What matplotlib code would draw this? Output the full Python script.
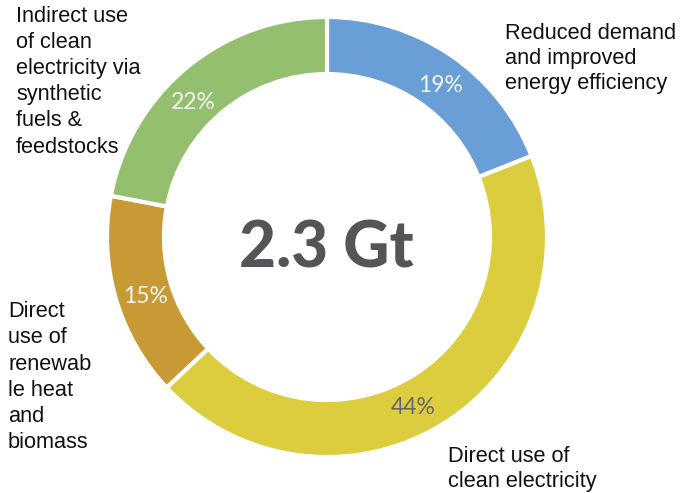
import matplotlib
matplotlib.use("Agg")
import matplotlib.pyplot as plt
import numpy as np

# Shares of the 2.3 Gt abatement, clockwise from 12 o'clock
categories = [
    "Reduced demand\nand improved\nenergy efficiency",
    "Direct use of\nclean electricity",
    "Direct\nuse of\nrenewab\nle heat\nand\nbiomass",
    "Indirect use\nof clean\nelectricity via\nsynthetic\nfuels &\nfeedstocks",
]
shares = [19, 44, 15, 22]
colors = ["#6a9ed6", "#dccd3e", "#c89a35", "#93bf6e"]
pct_colors = ["#f5f5f0", "#66666a", "#f5f5f0", "#f5f5f0"]
total_label = "2.3 Gt"

W, H = 683, 493
fig = plt.figure(figsize=(W / 100, H / 100), dpi=100)
ax = fig.add_axes([0, 0, 1, 1])

cx, cy = 327, H - 237
R, ring = 220, 57

wedges, _ = ax.pie(
    shares, colors=colors, startangle=90, counterclock=False,
    radius=R, center=(cx, cy), frame=True,
    wedgeprops=dict(width=ring, edgecolor="white", linewidth=3),
)
ax.set_xlim(0, W)
ax.set_ylim(0, H)
ax.set_aspect("equal")
ax.axis("off")

# percentage labels in the middle of the ring, nudged along the arc
r_lab = R - ring / 2 - 1
nudge = [-2.4, -5.4, 1.8, 5.0]
for w, s, c, d in zip(wedges, shares, pct_colors, nudge):
    ang = np.deg2rad((w.theta1 + w.theta2) / 2 + d)
    ax.text(cx + r_lab * np.cos(ang), cy + r_lab * np.sin(ang) - 1, f"{s}%",
            ha="center", va="center", fontsize=16.5, color=c,
            family=["Lato", "DejaVu Sans"], fontweight="normal")

# total in the hole
ax.text(cx - 1, H - 249, total_label, ha="center", va="center",
        fontsize=46, fontweight="black", color="#555559",
        family=["Lato", "DejaVu Sans"])

# category captions
lab_kw = dict(fontsize=15.7, color="#111111", family=["Liberation Sans", "DejaVu Sans"],
              ha="left", va="top")
ax.text(505, H - 23, categories[0], linespacing=1.24, **lab_kw)
ax.text(448, H - 446, categories[1], linespacing=1.22, **lab_kw)
ax.text(8, H - 301, categories[2], linespacing=1.33, **lab_kw)
ax.text(16, H - 6, categories[3], linespacing=1.32, **lab_kw)

fig.savefig("out.png", dpi=100)
